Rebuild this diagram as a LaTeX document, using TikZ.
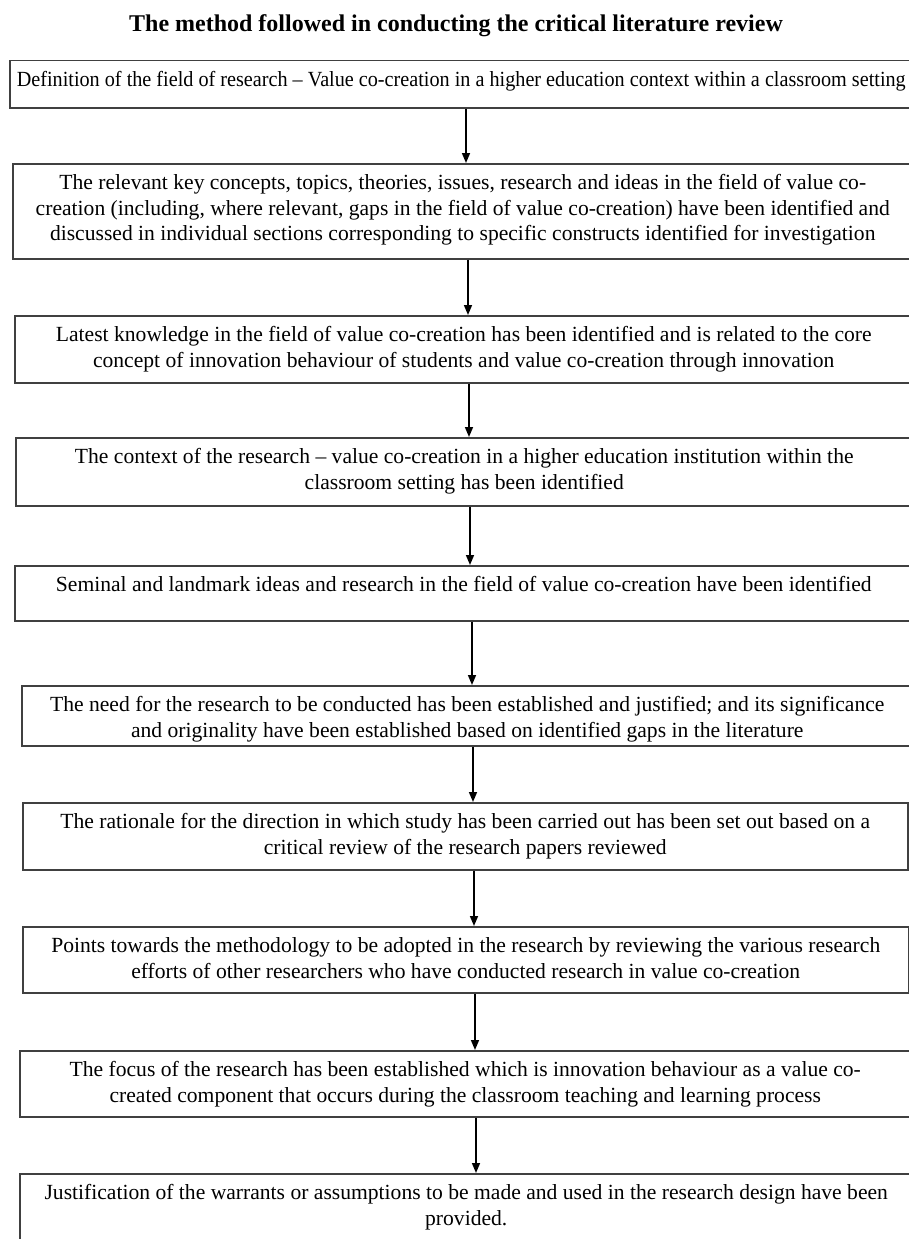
\documentclass[tikz,border=0pt]{standalone}
\usepackage{fontspec}
\setmainfont{Liberation Serif}
\usetikzlibrary{arrows.meta}

% box body: fixed width and height, text set from the top
\newcommand{\flowbody}[3]{%
  \parbox[t][#2pt][t]{#1pt}{\centering\fontsize{21.6}{25.5}\selectfont
    \vspace*{8pt}\strut #3\par}}

\begin{document}
\begin{tikzpicture}[x=1pt,y=-1pt,
  stepbox/.style={draw=black!75, line width=1.5pt, inner sep=0pt,
                  anchor=north west, fill=white},
  arr/.style={line width=1.6pt, draw=black,
              -{Triangle[length=10pt,width=8pt]}},
  titletext/.style={font=\bfseries\fontsize{24}{28}\selectfont},
]
\useasboundingbox (0,0) rectangle (909,1239);

\node[titletext] (title) at (456,26)
  {The method followed in conducting the critical literature review};

\node[stepbox] (b1) at (9,60) {\flowbody{903}{47}{%
  \scalebox{0.935}[1]{Definition of the field of research -- Value co-creation in a higher education context within a classroom setting}}};

\node[stepbox] (b2) at (12,163) {\flowbody{900}{95}{%
  The relevant key concepts, topics, theories, issues, research and ideas in the field of value co-\\
  creation (including, where relevant, gaps in the field of value co-creation) have been identified and\\
  discussed in individual sections corresponding to specific constructs identified for investigation}};

\node[stepbox] (b3) at (14,315) {\flowbody{898}{67}{%
  Latest knowledge in the field of value co-creation has been identified and is related to the core\\
  concept of innovation behaviour of students and value co-creation through innovation}};

\node[stepbox] (b4) at (15,437) {\flowbody{897}{68}{%
  The context of the research -- value co-creation in a higher education institution within the\\
  classroom setting has been identified}};

\node[stepbox] (b5) at (14,565) {\flowbody{898}{55}{%
  Seminal and landmark ideas and research in the field of value co-creation have been identified}};

\node[stepbox] (b6) at (21,685) {\flowbody{891}{60}{%
  The need for the research to be conducted has been established and justified; and its significance\\
  and originality have been established based on identified gaps in the literature}};

\node[stepbox] (b7) at (22,802) {\flowbody{885}{67}{%
  The rationale for the direction in which study has been carried out has been set out based on a\\
  critical review of the research papers reviewed}};

\node[stepbox] (b8) at (22,926) {\flowbody{886}{66}{%
  Points towards the methodology to be adopted in the research by reviewing the various research\\
  efforts of other researchers who have conducted research in value co-creation}};

\node[stepbox] (b9) at (19,1050) {\flowbody{891}{66}{%
  The focus of the research has been established which is innovation behaviour as a value co-\\
  created component that occurs during the classroom teaching and learning process}};

\node[stepbox] (b10) at (19,1173) {\flowbody{893}{80}{%
  Justification of the warrants or assumptions to be made and used in the research design have been\\
  provided.}};

% arrow columns
\coordinate (c1) at (466,0);
\coordinate (c2) at (468,0);
\coordinate (c3) at (469,0);
\coordinate (c4) at (470,0);
\coordinate (c5) at (472,0);
\coordinate (c6) at (473,0);
\coordinate (c7) at (474,0);
\coordinate (c8) at (475,0);
\coordinate (c9) at (476,0);

\draw[arr] (b1.south -| c1) -- (b2.north -| c1);
\draw[arr] (b2.south -| c2) -- (b3.north -| c2);
\draw[arr] (b3.south -| c3) -- (b4.north -| c3);
\draw[arr] (b4.south -| c4) -- (b5.north -| c4);
\draw[arr] (b5.south -| c5) -- (b6.north -| c5);
\draw[arr] (b6.south -| c6) -- (b7.north -| c6);
\draw[arr] (b7.south -| c7) -- (b8.north -| c7);
\draw[arr] (b8.south -| c8) -- (b9.north -| c8);
\draw[arr] (b9.south -| c9) -- (b10.north -| c9);
\end{tikzpicture}
\end{document}
